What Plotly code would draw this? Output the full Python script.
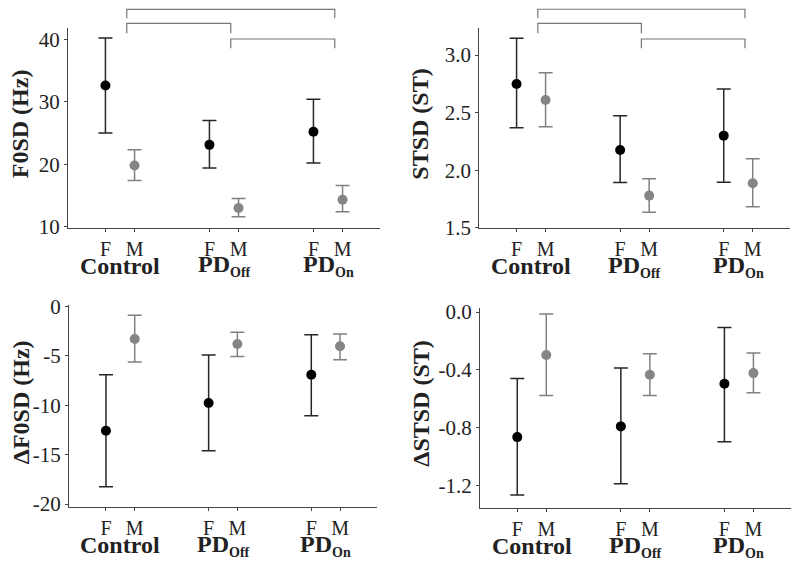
import plotly.graph_objects as go

# ---------------- data ----------------
groups = ["Control", "PD<sub><span style='font-size:14px'>Off</span></sub>",
          "PD<sub><span style='font-size:14px'>On</span></sub>"]
sexes = ["F", "M"]

f0sd_F_mean = [32.6, 23.1, 25.2]
f0sd_F_upper = [40.2, 27.0, 30.4]
f0sd_F_lower = [25.0, 19.4, 20.2]
f0sd_M_mean = [19.8, 13.0, 14.3]
f0sd_M_upper = [22.3, 14.5, 16.6]
f0sd_M_lower = [17.4, 11.6, 12.4]

stsd_F_mean = [2.748, 2.175, 2.30]
stsd_F_upper = [3.145, 2.473, 2.705]
stsd_F_lower = [2.369, 1.892, 1.895]
stsd_M_mean = [2.609, 1.779, 1.886]
stsd_M_upper = [2.846, 1.926, 2.10]
stsd_M_lower = [2.378, 1.634, 1.683]

df0sd_F_mean = [-12.58, -9.78, -6.92]
df0sd_F_upper = [-6.92, -4.93, -2.87]
df0sd_F_lower = [-18.25, -14.61, -11.07]
df0sd_M_mean = [-3.31, -3.81, -4.05]
df0sd_M_upper = [-0.91, -2.63, -2.80]
df0sd_M_lower = [-5.63, -5.09, -5.40]

dstsd_F_mean = [-0.864, -0.790, -0.495]
dstsd_F_upper = [-0.459, -0.387, -0.106]
dstsd_F_lower = [-1.265, -1.187, -0.896]
dstsd_M_mean = [-0.297, -0.433, -0.422]
dstsd_M_upper = [-0.014, -0.288, -0.283]
dstsd_M_lower = [-0.576, -0.576, -0.558]

y_titles = ["F0SD (Hz)", "STSD (ST)", "ΔF0SD (Hz)", "ΔSTSD (ST)"]
y_tickvals = [[10, 20, 30, 40], [1.5, 2.0, 2.5, 3.0], [0, -5, -10, -15, -20], [0.0, -0.4, -0.8, -1.2]]
y_ticktext = [["10", "20", "30", "40"], ["1.5", "2.0", "2.5", "3.0"],
              ["0", "-5", "-10", "-15", "-20"], ["0.0", "-0.4", "-0.8", "-1.2"]]
y_ranges = [[9.79, 41.81], [1.495, 3.235], [-20.30, 0.16], [-1.354, 0.028]]

# significance brackets (group a, group b, level) for the top panels
brackets = [(0, 2, 0), (0, 1, 1), (1, 2, 2)]

panels = [
    (f0sd_F_mean, f0sd_F_upper, f0sd_F_lower, f0sd_M_mean, f0sd_M_upper, f0sd_M_lower),
    (stsd_F_mean, stsd_F_upper, stsd_F_lower, stsd_M_mean, stsd_M_upper, stsd_M_lower),
    (df0sd_F_mean, df0sd_F_upper, df0sd_F_lower, df0sd_M_mean, df0sd_M_upper, df0sd_M_lower),
    (dstsd_F_mean, dstsd_F_upper, dstsd_F_lower, dstsd_M_mean, dstsd_M_upper, dstsd_M_lower),
]

# ---------------- layout geometry ----------------
W, H = 800, 566
px_boxes = [(68, 380, 28, 228), (479.3, 790, 28, 228.3), (69, 377, 304.7, 507), (480, 790.7, 308, 508)]
title_x = [-0.153, -0.189, -0.158, -0.191]
OFF = 0.14
FONT = "Liberation Serif, Times New Roman, serif"
F_COLOR = "#000000"
F_ERR = "#262626"
M_COLOR = "#858585"
M_ERR = "#808080"
AX_COLOR = "#444444"

fig = go.Figure()
annotations = []
shapes = []

for i, (fm, fu, fl, mm, mu, ml) in enumerate(panels):
    k = "" if i == 0 else str(i + 1)
    xa, ya = "x" + k, "y" + k
    g = list(range(len(groups)))
    xf = [v - OFF for v in g]
    xm = [v + OFF for v in g]
    fig.add_trace(go.Scatter(
        x=xf, y=fm, mode="markers", xaxis=xa, yaxis=ya, showlegend=False,
        marker=dict(color=F_COLOR, size=10),
        error_y=dict(type="data", symmetric=False,
                     array=[u - m for u, m in zip(fu, fm)],
                     arrayminus=[m - l for m, l in zip(fm, fl)],
                     color=F_ERR, thickness=1.5, width=7)))
    fig.add_trace(go.Scatter(
        x=xm, y=mm, mode="markers", xaxis=xa, yaxis=ya, showlegend=False,
        marker=dict(color=M_COLOR, size=10),
        error_y=dict(type="data", symmetric=False,
                     array=[u - m for u, m in zip(mu, mm)],
                     arrayminus=[m - l for m, l in zip(mm, ml)],
                     color=M_ERR, thickness=1.5, width=7)))

    x0, x1, yt, yb = px_boxes[i]
    xkey = "xaxis" + k
    ykey = "yaxis" + k
    fig.layout[xkey] = dict(
        domain=[x0 / W, x1 / W], anchor=ya, range=[-0.5, 2.5],
        tickvals=xf + xm, ticktext=[sexes[0]] * 3 + [sexes[1]] * 3,
        showline=True, linecolor=AX_COLOR, linewidth=1, ticks="outside", ticklen=3,
        tickcolor=AX_COLOR, showgrid=False, zeroline=False, automargin=False,
        tickfont=dict(family=FONT, size=20, color="#222222"), fixedrange=True)
    fig.layout[ykey] = dict(
        domain=[1 - yb / H, 1 - yt / H], anchor=xa, range=y_ranges[i],
        tickvals=y_tickvals[i], ticktext=y_ticktext[i],
        showline=True, linecolor=AX_COLOR, linewidth=1, ticks="outside", ticklen=3,
        tickcolor=AX_COLOR, showgrid=False, zeroline=False, automargin=False,
        tickfont=dict(family=FONT, size=21, color="#222222"), fixedrange=True)

    # axis title
    annotations.append(dict(
        text="<b>" + y_titles[i] + "</b>", xref=xa + " domain", yref=ya + " domain",
        x=title_x[i], y=0.52, textangle=-90, showarrow=False,
        xanchor="center", yanchor="middle",
        font=dict(family=FONT, size=24, color="#222222")))
    # group labels
    for gi, name in enumerate(groups):
        annotations.append(dict(
            text="<b>" + name + "</b>", xref=xa, yref=ya + " domain",
            x=gi, y=-0.19, showarrow=False, xanchor="center", yanchor="middle",
            font=dict(family=FONT, size=24, color="#222222")))

    # significance brackets (top row only)
    if i < 2:
        levels = [(1.0935, 1.0485), (1.0235, 0.9735), (0.945, 0.8985)]
        for a, b, lv in brackets:
            top, bot = levels[lv]
            xa_pos = a + 0.065
            xb_pos = b + 0.065
            shapes.append(dict(
                type="path", xref=xa, yref=ya + " domain",
                path=f"M {xa_pos} {bot} L {xa_pos} {top} L {xb_pos} {top} L {xb_pos} {bot}",
                line=dict(color="#777777", width=1.2)))

fig.update_layout(
    width=W, height=H, margin=dict(l=0, r=0, t=0, b=0, pad=0, autoexpand=False),
    paper_bgcolor="white", plot_bgcolor="white",
    annotations=annotations, shapes=shapes,
    font=dict(family=FONT),
)

fig.write_html("out.html", config={"displayModeBar": False},
               post_script="document.body.style.margin='0';")
